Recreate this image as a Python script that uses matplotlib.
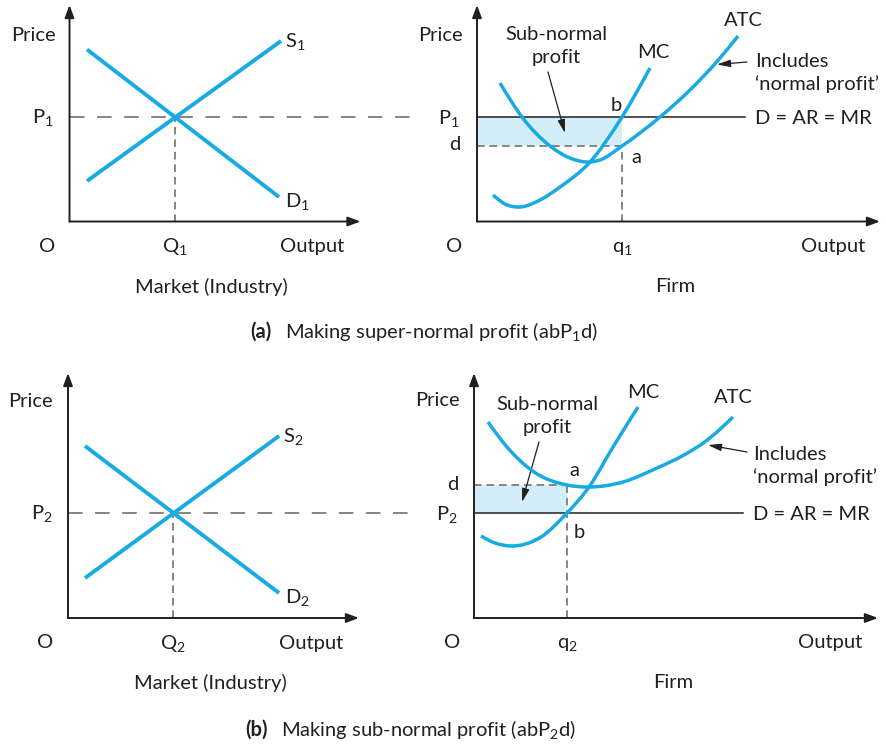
import matplotlib
matplotlib.use("Agg")
import matplotlib.pyplot as plt
from matplotlib.path import Path
from matplotlib.patches import PathPatch
import numpy as np

plt.rcParams['font.family'] = ['Lato', 'DejaVu Sans']
plt.rcParams['mathtext.fontset'] = 'custom'
plt.rcParams['mathtext.rm'] = 'Lato'
plt.rcParams['mathtext.it'] = 'Lato:italic'
plt.rcParams['mathtext.bf'] = 'Lato:bold'
plt.rcParams['mathtext.default'] = 'regular'
plt.rcParams['lines.scale_dashes'] = False

# ---------------- data ----------------
# (a) market: supply and demand end points (quantity, price)
supply_a_q = [1.75, 21.15]
supply_a_p = [4.05, 18.05]
demand_a_q = [1.75, 20.95]
demand_a_p = [17.2, 2.45]
eq_a_q, eq_a_p = 10.5, 10.45

# (a) firm: cost curves
mc_a_q = [1.6, 2.8, 4.3, 6.3, 8.3, 11.3, 14.5, 17.3]
mc_a_c = [2.65, 1.75, 1.45, 2.15, 3.45, 5.95, 10.45, 15.35]
atc_a_q = [2.3, 4.5, 7.3, 9.3, 11.3, 12.3, 14.5, 18.3, 21.3, 24.0, 26.1]
atc_a_c = [13.85, 10.45, 7.55, 6.35, 5.95, 6.15, 7.55, 10.45, 13.15, 16.0, 18.55]
firm_a_q, firm_a_p, firm_a_d = 14.5, 10.45, 7.55

# (b) market
supply_b_q = [1.7, 21.1]
supply_b_p = [4.0, 18.2]
demand_b_q = [1.7, 21.1]
demand_b_p = [17.2, 2.5]
eq_b_q, eq_b_p = 10.5, 10.5

# (b) firm
mc_b_q = [0.7, 2.1, 3.7, 6.7, 9.3, 11.5, 13.9, 16.4]
mc_b_c = [8.2, 7.5, 7.2, 8.1, 10.5, 13.1, 17.1, 21.1]
atc_b_q = [1.4, 3.3, 6.0, 9.3, 11.5, 14.9, 18.3, 21.0, 23.2, 25.9]
atc_b_c = [19.6, 17.1, 14.6, 13.3, 13.1, 13.6, 15.0, 16.3, 17.7, 20.1]
firm_b_q, firm_b_p, firm_b_d = 9.3, 10.5, 13.3

BLUE = '#17aae3'
SHADE = '#d3edf9'
GREY = '#858585'
INK = '#231f20'
FS = 14.5

W, H = 886, 745
fig = plt.figure(figsize=(W / 100, H / 100), dpi=100)


def panel(x0, y0, xmax, ymax):
    """Axes whose origin sits at pixel (x0, y0); one data unit = 10 px."""
    ax = fig.add_axes([x0 / W, (H - y0) / H, xmax * 10 / W, ymax * 10 / H])
    ax.set_xlim(0, xmax)
    ax.set_ylim(0, ymax)
    ax.axis('off')
    style = '-|>,head_length=0.75,head_width=0.28'
    for end in [(xmax, 0), (0, ymax)]:
        ax.annotate('', xy=end, xytext=(0, 0), annotation_clip=False,
                    arrowprops=dict(arrowstyle=style, color=INK, lw=1.4,
                                    mutation_scale=10, shrinkA=0, shrinkB=0))
    return ax


def smooth(ax, xs, ys, lw=2.5):
    """Cubic Hermite curve through the points, drawn as Bezier segments."""
    x = np.asarray(xs, float)
    y = np.asarray(ys, float)
    h = np.diff(x)
    d = np.diff(y) / h
    m = np.empty_like(x)
    m[1:-1] = (d[1:] * h[:-1] + d[:-1] * h[1:]) / (h[:-1] + h[1:])
    m[0] = 1.5 * d[0] - 0.5 * m[1]
    m[-1] = 1.5 * d[-1] - 0.5 * m[-2]
    verts, codes = [(x[0], y[0])], [Path.MOVETO]
    for i in range(len(x) - 1):
        t = h[i] / 3
        verts += [(x[i] + t, y[i] + m[i] * t),
                  (x[i + 1] - t, y[i + 1] - m[i + 1] * t),
                  (x[i + 1], y[i + 1])]
        codes += [Path.CURVE4] * 3
    ax.add_patch(PathPatch(Path(verts, codes), fill=False, edgecolor=BLUE,
                           lw=lw, capstyle='butt', joinstyle='round',
                           zorder=5, clip_on=False))


def pointer(ax, start, tip):
    ax.annotate('', xy=tip, xytext=start, annotation_clip=False,
                arrowprops=dict(arrowstyle='-|>,head_length=0.8,head_width=0.22',
                                color=INK, lw=0.9, mutation_scale=10,
                                shrinkA=0, shrinkB=0))


def txt(ax, x, y, s, ha='center', va='baseline', **kw):
    ax.text(x, y, s, ha=ha, va=va, fontsize=FS, color=INK, **kw)


def market(ax, sq, sp, dq, dp, eq, ep, n, xdash):
    ax.plot([0, xdash], [ep, ep], color=GREY, lw=1.4, dashes=(10.5, 9),
            clip_on=False)
    ax.plot([eq, eq], [0, ep], color=GREY, lw=1.4, dashes=(5.5, 3.5))
    ax.plot(sq, sp, color=BLUE, lw=2.8, solid_capstyle='butt', zorder=5)
    ax.plot(dq, dp, color=BLUE, lw=2.8, solid_capstyle='butt', zorder=5)
    txt(ax, sq[1] + 0.4, sp[1] - 0.6, 'S$_%s$' % n, ha='left')
    txt(ax, dq[1] + 0.6, dp[1] - 1.0, 'D$_%s$' % n, ha='left')
    txt(ax, -1.55, ep - 0.6, 'P$_%s$' % n, ha='right')
    txt(ax, eq, -3.05, 'Q$_%s$' % n)
    txt(ax, -2.25, -3.05, 'O')
    txt(ax, 24.3, -3.05, 'Output')
    txt(ax, 14.2, -7.1, 'Market (Industry)')


# ---------- (a) market ----------
ax1 = panel(69.5, 221.5, 29.1, 21.65)
market(ax1, supply_a_q, supply_a_p, demand_a_q, demand_a_p, eq_a_q, eq_a_p,
       '1', 34.9)
txt(ax1, -3.65, 18.05, 'Price')

# ---------- (a) firm ----------
ax2 = panel(477, 221.5, 40.3, 21.65)
ax2.fill_between([0, firm_a_q], firm_a_d, firm_a_p, color=SHADE, lw=0)
ax2.plot([0, firm_a_q], [firm_a_d, firm_a_d], color=GREY, lw=1.4,
         dashes=(5.5, 3.5))
ax2.plot([firm_a_q, firm_a_q], [0, firm_a_d], color=GREY, lw=1.4,
         dashes=(5.5, 3.5))
ax2.plot([0, 26.8], [firm_a_p, firm_a_p], color=INK, lw=1.1)
smooth(ax2, mc_a_q, mc_a_c)
smooth(ax2, atc_a_q, atc_a_c)
txt(ax2, -3.7, 18.05, 'Price')
txt(ax2, -1.7, 9.75, 'P$_1$', ha='right')
txt(ax2, -1.7, 7.15, 'd', ha='right')
txt(ax2, -2.3, -3.05, 'O')
txt(ax2, firm_a_q, -3.05, 'q$_1$')
txt(ax2, 35.6, -3.05, 'Output')
txt(ax2, 19.8, -7.1, 'Firm')
txt(ax2, 7.9, 18.15, 'Sub-normal')
txt(ax2, 7.9, 15.85, 'profit')
pointer(ax2, (7.1, 14.95), (8.8, 8.85))
txt(ax2, 17.6, 16.35, 'MC')
txt(ax2, 26.6, 19.55, 'ATC')
txt(ax2, 27.8, 15.45, 'Includes', ha='left')
txt(ax2, 27.8, 13.15, '\u2018normal profit\u2019', ha='left')
pointer(ax2, (27.0, 15.95), (24.0, 15.7))
txt(ax2, 13.9, 11.05, 'b')
txt(ax2, 15.9, 5.85, 'a')
txt(ax2, 27.8, 9.75, 'D = AR = MR', ha='left')

# ---------- (b) market ----------
ax3 = panel(68, 618, 29.1, 24.5)
market(ax3, supply_b_q, supply_b_p, demand_b_q, demand_b_p, eq_b_q, eq_b_p,
       '2', 34.9)
txt(ax3, -3.8, 21.1, 'Price')

# ---------- (b) firm ----------
ax4 = panel(474, 618, 40.4, 24.5)
ax4.fill_between([0, firm_b_q], firm_b_p, firm_b_d, color=SHADE, lw=0)
ax4.plot([0, firm_b_q], [firm_b_d, firm_b_d], color=GREY, lw=1.4,
         dashes=(5.5, 3.5))
ax4.plot([firm_b_q, firm_b_q], [0, firm_b_d], color=GREY, lw=1.4,
         dashes=(5.5, 3.5))
ax4.plot([0, 26.9], [firm_b_p, firm_b_p], color=INK, lw=1.1)
smooth(ax4, mc_b_q, mc_b_c)
smooth(ax4, atc_b_q, atc_b_c)
txt(ax4, -3.7, 21.2, 'Price')
txt(ax4, -1.6, 12.8, 'd', ha='right')
txt(ax4, -1.6, 9.8, 'P$_2$', ha='right')
txt(ax4, -2.2, -3.0, 'O')
txt(ax4, firm_b_q, -3.0, 'q$_2$')
txt(ax4, 35.6, -3.0, 'Output')
txt(ax4, 19.9, -7.0, 'Firm')
txt(ax4, 7.3, 20.8, 'Sub-normal')
txt(ax4, 7.3, 18.5, 'profit')
pointer(ax4, (6.5, 17.6), (4.8, 11.6))
txt(ax4, 16.9, 22.0, 'MC')
txt(ax4, 25.9, 21.5, 'ATC')
txt(ax4, 27.9, 15.8, 'Includes', ha='left')
txt(ax4, 27.9, 13.5, '\u2018normal profit\u2019', ha='left')
pointer(ax4, (27.3, 16.6), (23.4, 17.3))
txt(ax4, 10.0, 14.2, 'a')
txt(ax4, 10.5, 8.0, 'b')
txt(ax4, 27.9, 9.8, 'D = AR = MR', ha='left')

# ---------- captions ----------
fig.text(250 / W, 1 - 338 / H, '(a)', fontsize=FS, fontweight='bold',
         color=INK, ha='left', va='baseline')
fig.text(285 / W, 1 - 338 / H, 'Making super-normal profit (abP$_1$d)',
         fontsize=FS, color=INK, ha='left', va='baseline')
fig.text(245 / W, 1 - 736 / H, '(b)', fontsize=FS, fontweight='bold',
         color=INK, ha='left', va='baseline')
fig.text(281 / W, 1 - 736 / H, 'Making sub-normal profit (abP$_2$d)',
         fontsize=FS, color=INK, ha='left', va='baseline')

fig.savefig('out.png', dpi=100)
